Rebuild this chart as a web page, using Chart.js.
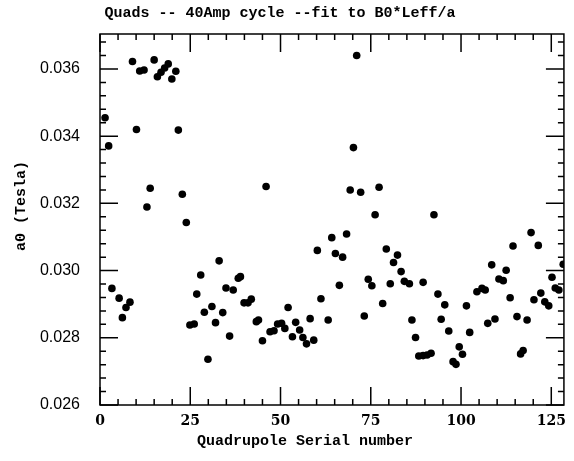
<!DOCTYPE html>
<html lang="en">
<head>
<meta charset="UTF-8">
<title>Quads 40Amp cycle</title>
<script src="https://cdn.jsdelivr.net/npm/chart.js"></script>
<style>
  body { margin: 0; background: #fff; }
  #wrap { width: 574px; height: 461px; }
</style>
</head>
<body>
<div id="wrap"><canvas id="myChart" width="574" height="461"></canvas></div>
<script>
// quadrupole serial number (x) and fitted a0 in Tesla (y)
const serialNo = [
  1.4, 2.4, 3.3, 5.3, 6.2, 7.2, 8.3, 9.0, 10.1, 11.0, 12.2, 13.0, 13.9, 15.0,
  15.9, 16.9, 17.9, 18.9, 19.9, 21.0, 21.7, 22.8, 23.9, 24.9, 26.1, 26.8, 27.9,
  28.9, 29.9, 31.0, 32.0, 33.0, 34.0, 34.9, 35.9, 36.9, 38.3, 38.9, 39.9, 41.0,
  41.9, 43.3, 43.9, 45.0, 46.0, 47.1, 48.2, 49.2, 50.3, 51.2, 52.1, 53.3, 54.2,
  55.3, 56.2, 57.2, 58.2, 59.2, 60.2, 61.2, 63.2, 64.2, 65.2, 66.3, 67.2, 68.3,
  69.3, 70.2, 71.1, 72.2, 73.2, 74.3, 75.3, 76.2, 77.3, 78.3, 79.3, 80.4, 81.3,
  82.4, 83.4, 84.3, 85.7, 86.4, 87.4, 88.3, 89.5, 89.5, 90.6, 91.7, 92.5, 93.6,
  94.5, 95.5, 96.6, 97.8, 98.6, 99.5, 100.4, 101.5, 102.4, 104.4, 105.8, 106.7,
  107.4, 108.5, 109.4, 110.5, 111.7, 112.5, 113.6, 114.4, 115.5, 116.5, 117.2,
  118.3, 119.4, 120.2, 121.4, 122.1, 123.2, 124.3, 125.2, 126.1, 127.1, 128.3
];
const a0Tesla = [
  0.03455, 0.03371, 0.02947, 0.02918, 0.0286, 0.0289, 0.02906, 0.03622, 0.0342, 0.03594, 0.03597, 0.03189, 0.03245, 0.03627,
  0.03577, 0.0359, 0.03603, 0.03615, 0.0357, 0.03593, 0.03418, 0.03227, 0.03143, 0.02838, 0.02841, 0.0293, 0.02987,
  0.02876, 0.02736, 0.02893, 0.02845, 0.03029, 0.02875, 0.02948, 0.02805, 0.02942, 0.02977, 0.02982, 0.02904, 0.02904,
  0.02915, 0.02848, 0.02853, 0.02791, 0.0325, 0.02818, 0.02821, 0.02841, 0.02843, 0.02828, 0.0289, 0.02803, 0.02846,
  0.02823, 0.02801, 0.02782, 0.02857, 0.02793, 0.0306, 0.02916, 0.02853, 0.03098, 0.03051, 0.02956, 0.0304, 0.03109,
  0.0324, 0.03366, 0.0364, 0.03233, 0.02865, 0.02974, 0.02955, 0.03166, 0.03248, 0.02902, 0.03064, 0.02961, 0.03024,
  0.03046, 0.02997, 0.02968, 0.02961, 0.02853, 0.02801, 0.02746, 0.02747, 0.02965, 0.02749, 0.02754, 0.03166, 0.0293,
  0.02855, 0.02898, 0.0282, 0.02729, 0.02721, 0.02773, 0.02751, 0.02895, 0.02816, 0.02937, 0.02947, 0.02942,
  0.02843, 0.03017, 0.02856, 0.02975, 0.0297, 0.03001, 0.02919, 0.03073, 0.02863, 0.02752, 0.02762,
  0.02853, 0.03113, 0.02913, 0.03075, 0.02933, 0.02907, 0.02895, 0.0298, 0.02948, 0.02942, 0.03019
];
const xLabels = [0, 25, 50, 75, 100, 125];
const yLabels = [0.026, 0.028, 0.030, 0.032, 0.034, 0.036];

const points = serialNo.map((s, i) => ({ x: s, y: a0Tesla[i] }));

// frame, inward tick marks on all four sides, y labels and the three titles
const frameTicks = {
  id: 'frameTicks',
  afterDraw(chart) {
    const { ctx, chartArea: a, scales } = chart;
    const xs = scales.x, ys = scales.y;
    ctx.save();
    ctx.strokeStyle = '#000';
    ctx.lineWidth = 1.5;
    ctx.strokeRect(a.left, a.top, a.right - a.left, a.bottom - a.top);
    ctx.beginPath();
    for (let v = 0; v <= xs.max; v += 5) {
      const px = xs.getPixelForValue(v);
      const len = v % 25 === 0 ? 18 : 6;
      ctx.moveTo(px, a.bottom); ctx.lineTo(px, a.bottom - len);
      ctx.moveTo(px, a.top); ctx.lineTo(px, a.top + len);
    }
    for (let k = 260; k <= 370; k += 4) {
      const py = ys.getPixelForValue(k / 10000);
      const len = k % 20 === 0 ? 18 : 6;
      ctx.moveTo(a.left, py); ctx.lineTo(a.left + len, py);
      ctx.moveTo(a.right, py); ctx.lineTo(a.right - len, py);
    }
    ctx.stroke();

    ctx.fillStyle = '#000';
    ctx.textBaseline = 'middle';
    ctx.textAlign = 'right';
    ctx.font = '16px "Liberation Sans"';
    yLabels.forEach(v => ctx.fillText(v.toFixed(3), a.left - 20, ys.getPixelForValue(v)));

    ctx.textAlign = 'center';
    ctx.font = 'bold 15px "Liberation Mono"';
    ctx.fillText('Quads -- 40Amp cycle --fit to B0*Leff/a', 280, 13);
    ctx.fillText('Quadrupole Serial number', 305, 441);
    ctx.translate(21, 206);
    ctx.rotate(-Math.PI / 2);
    ctx.fillText('a0 (Tesla)', 0, 0);
    ctx.restore();
  }
};

new Chart(document.getElementById('myChart'), {
  type: 'scatter',
  data: {
    datasets: [{
      data: points,
      backgroundColor: '#000',
      borderColor: '#000',
      pointRadius: 3.8,
      pointHoverRadius: 3.8,
      borderWidth: 0
    }]
  },
  options: {
    responsive: false,
    animation: false,
    layout: { padding: { left: 0, right: 1, top: 34, bottom: 0 } },
    plugins: {
      legend: { display: false },
      tooltip: { enabled: false },
      title: { display: false }
    },
    scales: {
      x: {
        type: 'linear',
        min: 0,
        max: 128.5,
        afterBuildTicks(scale) { scale.ticks = xLabels.map(v => ({ value: v })); },
        afterFit(scale) { scale.height = 56; },
        grid: { display: false, drawTicks: false },
        border: { display: false },
        ticks: {
          color: '#000',
          padding: 8,
          maxRotation: 0,
          autoSkip: false,
          font: { family: 'DejaVu Serif', size: 14, weight: 'bold' },
          callback: v => String(v)
        }
      },
      y: {
        type: 'linear',
        min: 0.026,
        max: 0.03704,
        afterBuildTicks(scale) { scale.ticks = yLabels.map(v => ({ value: v })); },
        afterFit(scale) { scale.width = 100; },
        grid: { display: false, drawTicks: false },
        border: { display: false },
        ticks: { display: false }
      }
    }
  },
  plugins: [frameTicks]
});
</script>
</body>
</html>
